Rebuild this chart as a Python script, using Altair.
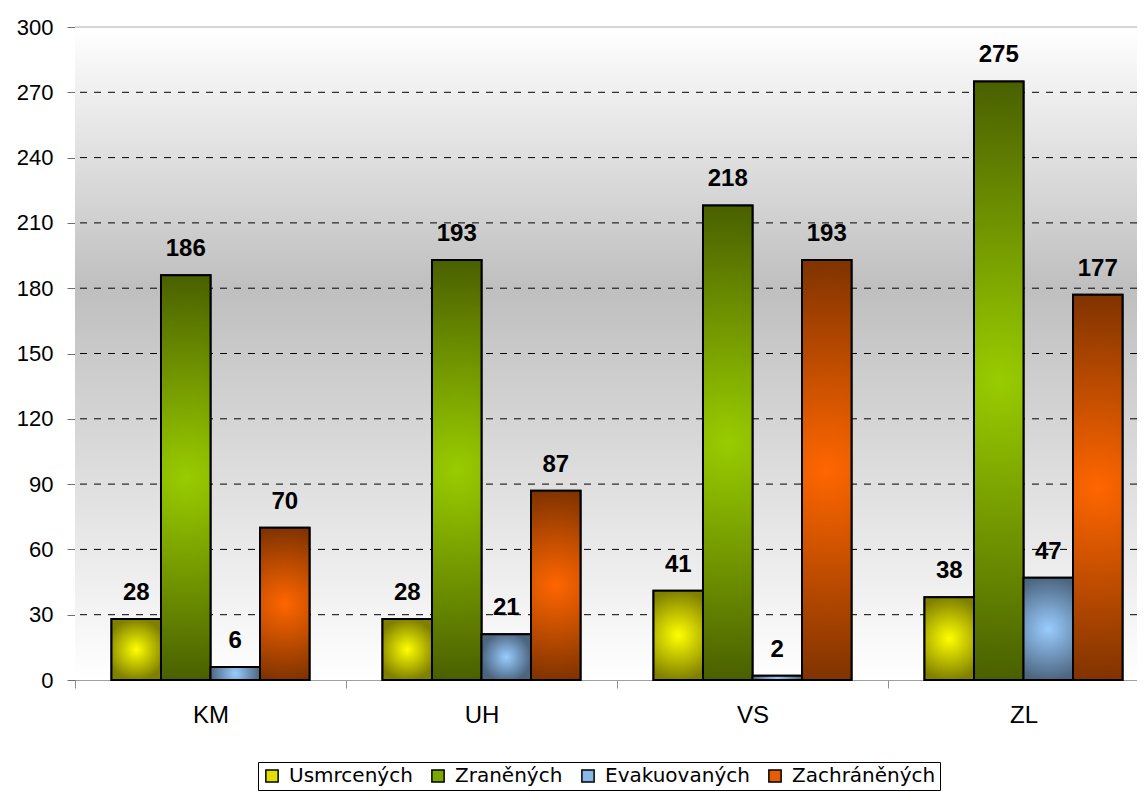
import altair as alt
import pandas as pd

categories = ["KM", "UH", "VS", "ZL"]
series = ["Usmrcených", "Zraněných", "Evakuovaných", "Zachráněných"]
usmrcenych = [28, 28, 41, 38]
zranenych = [186, 193, 218, 275]
evakuovanych = [6, 21, 2, 47]
zachranenych = [70, 87, 193, 177]
y_ticks = [0, 30, 60, 90, 120, 150, 180, 210, 240, 270, 300]
grid_values = [30, 60, 90, 120, 150, 180, 210, 240, 270]

values_by_series = [usmrcenych, zranenych, evakuovanych, zachranenych]
rows = []
for s, vals in zip(series, values_by_series):
    for c, v in zip(categories, vals):
        rows.append({"kraj": c, "series": s, "value": v})
df = pd.DataFrame(rows)

center_colors = ["#ffff00", "#99cc00", "#99ccff", "#ff6600"]
edge_colors = ["#808000", "#4a6000", "#4d6680", "#803300"]
legend_colors = ["#e0e000", "#7aa800", "#8ab8e6", "#e65c00"]


def radial(center, edge):
    return {
        "gradient": "radial",
        "x1": 0.5, "y1": 0.5, "r1": 0,
        "x2": 0.5, "y2": 0.5, "r2": 0.5,
        "stops": [
            {"offset": 0, "color": center},
            {"offset": 1, "color": edge},
        ],
    }


bg_gradient = {
    "gradient": "linear",
    "x1": 0, "y1": 0, "x2": 0, "y2": 1,
    "stops": [
        {"offset": 0, "color": "#ffffff"},
        {"offset": 0.4, "color": "#bfbfbf"},
        {"offset": 1, "color": "#ffffff"},
    ],
}

PLOT_W = 1062
PLOT_H = 653
BAND_RANGE = 1084

x_enc = alt.X(
    "kraj:N",
    sort=categories,
    scale=alt.Scale(domain=categories, range=[0, BAND_RANGE], paddingInner=0, paddingOuter=0),
    axis=alt.Axis(
        title=None,
        labelAngle=0,
        labelFontSize=24,
        labelColor="black",
        labelPadding=15,
        tickBand="extent",
        tickSize=8,
        tickColor="#909090",
        domainColor="#a0a0a0",
        grid=False,
    ),
)
xoff_enc = alt.XOffset(
    "series:N",
    sort=series,
    scale=alt.Scale(domain=series, paddingOuter=0.737, paddingInner=0),
)
y_enc = alt.Y(
    "value:Q",
    scale=alt.Scale(domain=[0, 300], nice=False),
    axis=alt.Axis(
        title=None,
        values=y_ticks,
        labelFontSize=22,
        labelColor="black",
        labelPadding=14,
        tickSize=8,
        tickColor="#707070",
        domainColor="#707070",
        grid=False,
    ),
)

background = alt.Chart(alt.Data(values=[{}])).mark_rect(fill=bg_gradient).encode(
    x=alt.value(0),
    x2=alt.value("width"),
    y=alt.datum(300),
    y2=alt.datum(0),
)

grid = alt.Chart(pd.DataFrame({"g": grid_values})).mark_rule(
    color="black", strokeWidth=1, strokeDash=[7, 7]
).encode(y=alt.Y("g:Q"))

top_border = alt.Chart(alt.Data(values=[{}])).mark_rule(
    color="#c8c8c8", strokeWidth=1.5
).encode(y=alt.datum(300))

base_bars = alt.Chart(df).mark_bar(stroke="black", strokeWidth=2).encode(
    x=x_enc,
    xOffset=xoff_enc,
    y=y_enc,
    color=alt.Color(
        "series:N",
        sort=series,
        scale=alt.Scale(domain=series, range=legend_colors),
        legend=alt.Legend(
            title=None,
            orient="none",
            legendX=183,
            legendY=735,
            direction="horizontal",
            columns=4,
            strokeColor="black",
            fillColor="white",
            padding=4,
            labelFont="DejaVu Sans",
            labelFontSize=20,
            labelColor="black",
            labelOffset=7,
            columnPadding=15,
            symbolType="square",
            symbolSize=150,
            symbolStrokeColor="black",
            symbolStrokeWidth=1.5,
            symbolOpacity=1,
        ),
    ),
)

grad_layers = []
for s, c, e in zip(series, center_colors, edge_colors):
    grad_layers.append(
        alt.Chart(df)
        .transform_filter(alt.datum.series == s)
        .mark_bar(fill=radial(c, e), stroke="black", strokeWidth=2)
        .encode(x=x_enc, xOffset=xoff_enc, y=y_enc)
    )

labels = alt.Chart(df).mark_text(
    fontSize=24, fontWeight="bold", color="black", dy=-19, baseline="alphabetic",
    font="Liberation Sans",
).encode(x=x_enc, xOffset=xoff_enc, y=y_enc, text="value:Q")

chart = alt.layer(
    background, grid, top_border, base_bars, *grad_layers, labels
).properties(
    width=PLOT_W,
    height=PLOT_H,
    autosize=alt.AutoSizeParams(type="none"),
    padding={"left": 67, "top": 19, "right": 0, "bottom": 112},
).configure(
    font="Liberation Sans",
).configure_view(
    stroke=None,
)

chart.save("out.html", embed_options={"renderer": "svg", "actions": False})
